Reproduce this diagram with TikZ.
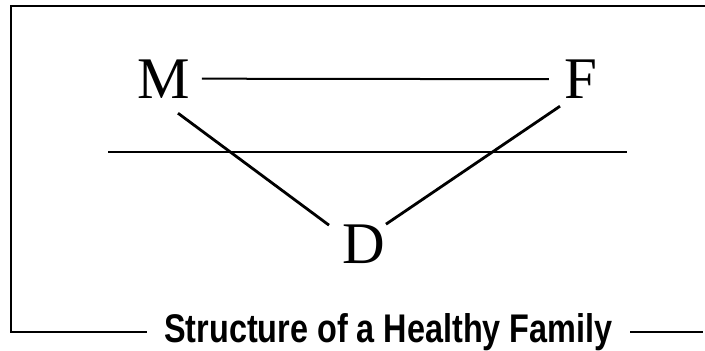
\documentclass[tikz,border=0pt]{standalone}
\usepackage{fontspec}
\setmainfont{Liberation Serif}
\newfontfamily\capfont[FakeStretch=0.81]{Liberation Sans}
\begin{document}
\begin{tikzpicture}[x=1pt,y=-1pt,
  letter/.style={inner sep=0pt, anchor=base, font=\fontsize{59}{60}\selectfont},
  frameline/.style={line width=2pt},
  tie/.style={line width=2pt},
  diag/.style={line width=2.8pt}]
\useasboundingbox (0,0) rectangle (705,351);
% frame
\coordinate (tl) at (10.5,6);
\coordinate (tr) at (705,6);
\coordinate (bl) at (10.5,331.5);
\draw[frameline, line cap=rect] (tr) -- (tl) -- (bl);
% caption
\node[inner sep=0pt, anchor=base, font=\capfont\bfseries\fontsize{40}{42}\selectfont] (cap) at (388.5,342) {Structure of a Healthy Family};
\coordinate (b1) at (147,331.5);
\coordinate (b2) at (630,331.5);
\coordinate (b3) at (703,331.5);
\draw[frameline] (bl) -- (b1);
\draw[frameline] (b2) -- (b3);
% letters
\node[letter] (M) at (163.5,98) {M};
\node[letter] (F) at (580.5,98.5) {F};
\node[letter] (D) at (363.5,263) {D};
% connectors
\draw[tie] ([xshift=12]M.east) -- ([xshift=-15]F.west);
\draw[diag] ([shift={(14.5,15)}]M.south) -- ([shift={(-13,1)}]D.north west);
\draw[diag] ([shift={(1,0)}]D.north east) -- ([shift={(-20.5,7.5)}]F.south);
% horizontal line
\coordinate (h1) at (108,152);
\coordinate (h2) at (627,152);
\draw[tie] (h1) -- (h2);
\end{tikzpicture}
\end{document}
